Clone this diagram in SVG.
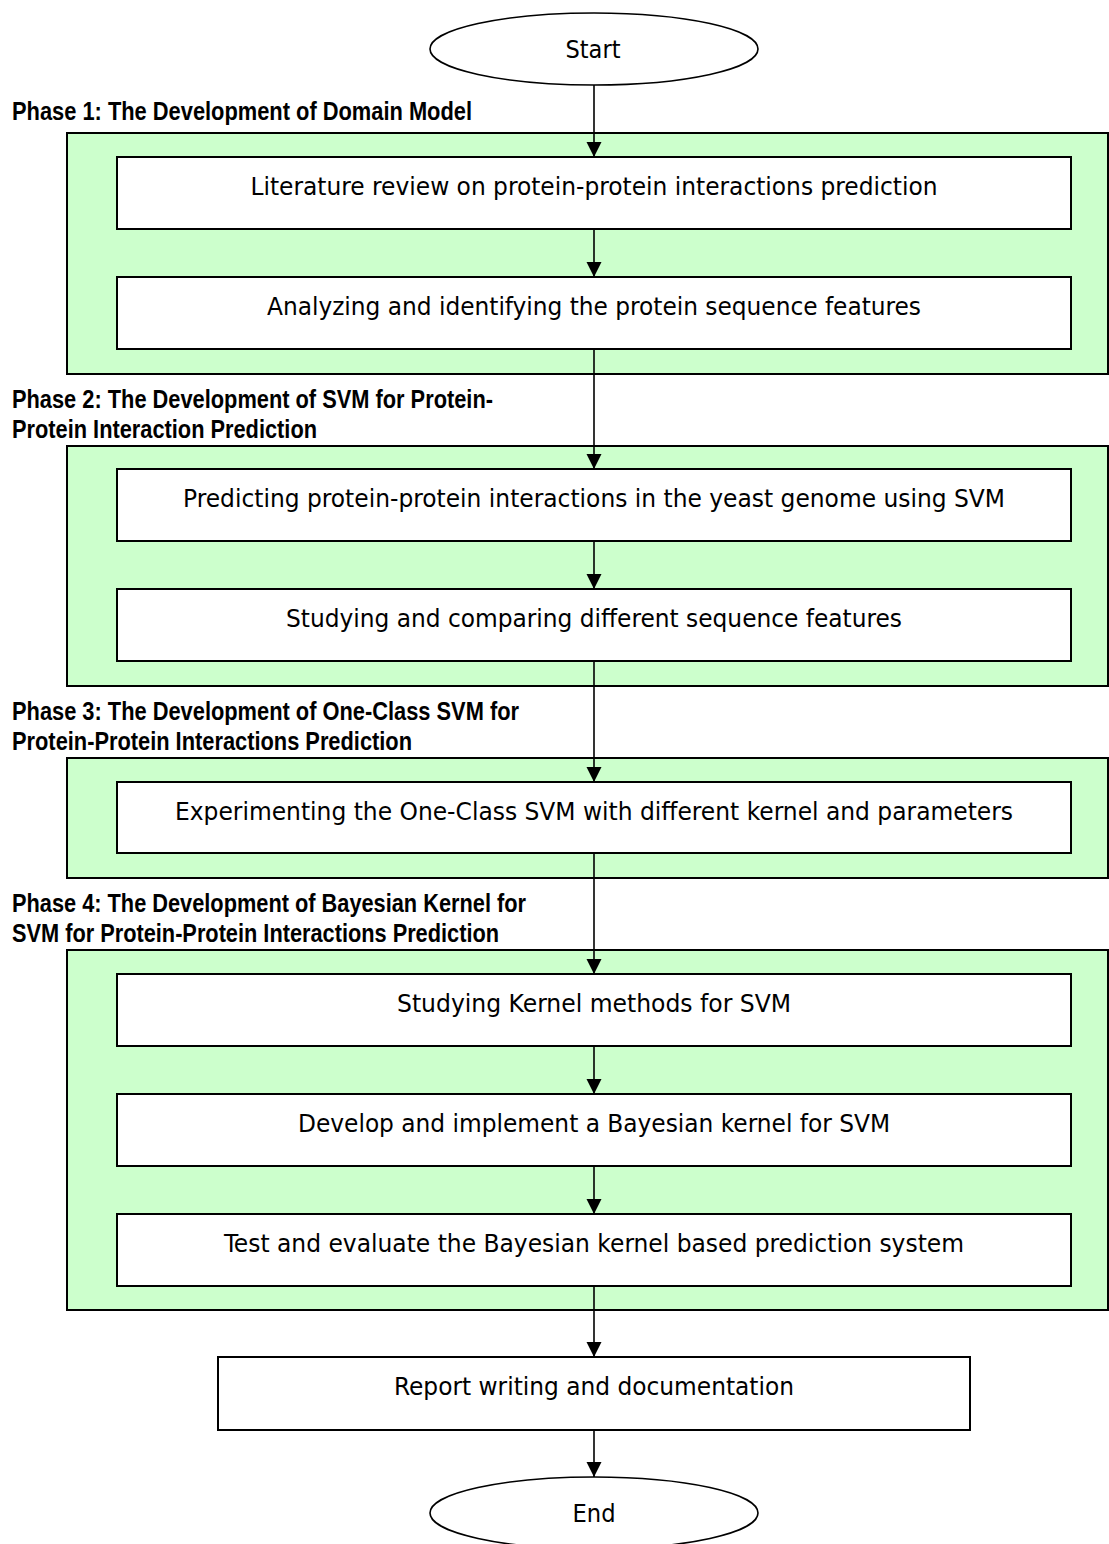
<svg xmlns="http://www.w3.org/2000/svg" width="1109" height="1544" viewBox="0 0 1109 1544">
  <style>
    .phase { fill: #CCFFCC; stroke: #000; stroke-width: 2; }
    .step { fill: #fff; stroke: #000; stroke-width: 2; }
    .term { fill: #fff; stroke: #000; stroke-width: 1.6; }
    .txt { font-family: "DejaVu Sans Condensed", "DejaVu Sans", Verdana, sans-serif; font-size: 24px; fill: #000; text-anchor: middle; }
    .lbl { font-family: "Liberation Sans Narrow", "Liberation Sans", Arial, sans-serif; font-size: 25px; font-weight: bold; fill: #000; }
    .conn { stroke: #000; stroke-width: 1.6; fill: none; marker-end: url(#arrow); }
  </style>
  <defs>
    <marker id="arrow" markerUnits="userSpaceOnUse" markerWidth="16" markerHeight="16" refX="15" refY="7.5" orient="auto" viewBox="0 0 16 16">
      <path d="M0,0 L15,7.5 L0,15 z" fill="#000"/>
    </marker>
  </defs>

  <rect width="1109" height="1544" fill="#fff"/>

  <!-- phase containers -->
  <g id="phase1">
    <rect class="phase" x="67" y="133" width="1041" height="241"/>
    <text class="lbl" x="12" y="120" textLength="460" lengthAdjust="spacingAndGlyphs">Phase 1: The Development of Domain Model</text>
  </g>
  <g id="phase2">
    <rect class="phase" x="67" y="446" width="1041" height="240"/>
    <text class="lbl" x="12" y="408" textLength="481" lengthAdjust="spacingAndGlyphs">Phase 2: The Development of SVM for Protein-</text>
    <text class="lbl" x="12" y="438" textLength="305" lengthAdjust="spacingAndGlyphs">Protein Interaction Prediction</text>
  </g>
  <g id="phase3">
    <rect class="phase" x="67" y="758" width="1041" height="120"/>
    <text class="lbl" x="12" y="720" textLength="507" lengthAdjust="spacingAndGlyphs">Phase 3: The Development of One-Class SVM for</text>
    <text class="lbl" x="12" y="750" textLength="400" lengthAdjust="spacingAndGlyphs">Protein-Protein Interactions Prediction</text>
  </g>
  <g id="phase4">
    <rect class="phase" x="67" y="950" width="1041" height="360"/>
    <text class="lbl" x="12" y="912" textLength="514" lengthAdjust="spacingAndGlyphs">Phase 4: The Development of Bayesian Kernel for</text>
    <text class="lbl" x="12" y="942" textLength="487" lengthAdjust="spacingAndGlyphs">SVM for Protein-Protein Interactions Prediction</text>
  </g>

  <!-- terminals -->
  <g id="start">
    <ellipse class="term" cx="594" cy="49" rx="164" ry="36"/>
    <text class="txt" x="593" y="58" textLength="55" lengthAdjust="spacingAndGlyphs">Start</text>
  </g>
  <g id="end">
    <ellipse class="term" cx="594" cy="1513" rx="164" ry="36"/>
    <text class="txt" x="594" y="1522" textLength="43" lengthAdjust="spacingAndGlyphs">End</text>
  </g>

  <!-- process steps -->
  <g id="step-literature">
    <rect class="step" x="117" y="157" width="954" height="72"/>
    <text class="txt" x="594" y="195" textLength="687" lengthAdjust="spacingAndGlyphs">Literature review on protein-protein interactions prediction</text>
  </g>
  <g id="step-features">
    <rect class="step" x="117" y="277" width="954" height="72"/>
    <text class="txt" x="594" y="315" textLength="654" lengthAdjust="spacingAndGlyphs">Analyzing and identifying the protein sequence features</text>
  </g>
  <g id="step-predict">
    <rect class="step" x="117" y="469" width="954" height="72"/>
    <text class="txt" x="594" y="507" textLength="822" lengthAdjust="spacingAndGlyphs">Predicting protein-protein interactions in the yeast genome using SVM</text>
  </g>
  <g id="step-compare">
    <rect class="step" x="117" y="589" width="954" height="72"/>
    <text class="txt" x="594" y="627" textLength="616" lengthAdjust="spacingAndGlyphs">Studying and comparing different sequence features</text>
  </g>
  <g id="step-oneclass">
    <rect class="step" x="117" y="782" width="954" height="71"/>
    <text class="txt" x="594" y="820" textLength="838" lengthAdjust="spacingAndGlyphs">Experimenting the One-Class SVM with different kernel and parameters</text>
  </g>
  <g id="step-kernels">
    <rect class="step" x="117" y="974" width="954" height="72"/>
    <text class="txt" x="594" y="1012" textLength="394" lengthAdjust="spacingAndGlyphs">Studying Kernel methods for SVM</text>
  </g>
  <g id="step-develop">
    <rect class="step" x="117" y="1094" width="954" height="72"/>
    <text class="txt" x="594" y="1132" textLength="592" lengthAdjust="spacingAndGlyphs">Develop and implement a Bayesian kernel for SVM</text>
  </g>
  <g id="step-test">
    <rect class="step" x="117" y="1214" width="954" height="72"/>
    <text class="txt" x="594" y="1252" textLength="740" lengthAdjust="spacingAndGlyphs">Test and evaluate the Bayesian kernel based prediction system</text>
  </g>
  <g id="step-report">
    <rect class="step" x="218" y="1357" width="752" height="73"/>
    <text class="txt" x="594" y="1395" textLength="400" lengthAdjust="spacingAndGlyphs">Report writing and documentation</text>
  </g>

  <!-- connectors -->
  <g id="connectors">
    <line class="conn" x1="594" y1="85" x2="594" y2="157"/>
    <line class="conn" x1="594" y1="229" x2="594" y2="277"/>
    <line class="conn" x1="594" y1="349" x2="594" y2="469"/>
    <line class="conn" x1="594" y1="541" x2="594" y2="589"/>
    <line class="conn" x1="594" y1="661" x2="594" y2="782"/>
    <line class="conn" x1="594" y1="853" x2="594" y2="974"/>
    <line class="conn" x1="594" y1="1046" x2="594" y2="1094"/>
    <line class="conn" x1="594" y1="1166" x2="594" y2="1214"/>
    <line class="conn" x1="594" y1="1286" x2="594" y2="1357"/>
    <line class="conn" x1="594" y1="1430" x2="594" y2="1477"/>
  </g>
</svg>
